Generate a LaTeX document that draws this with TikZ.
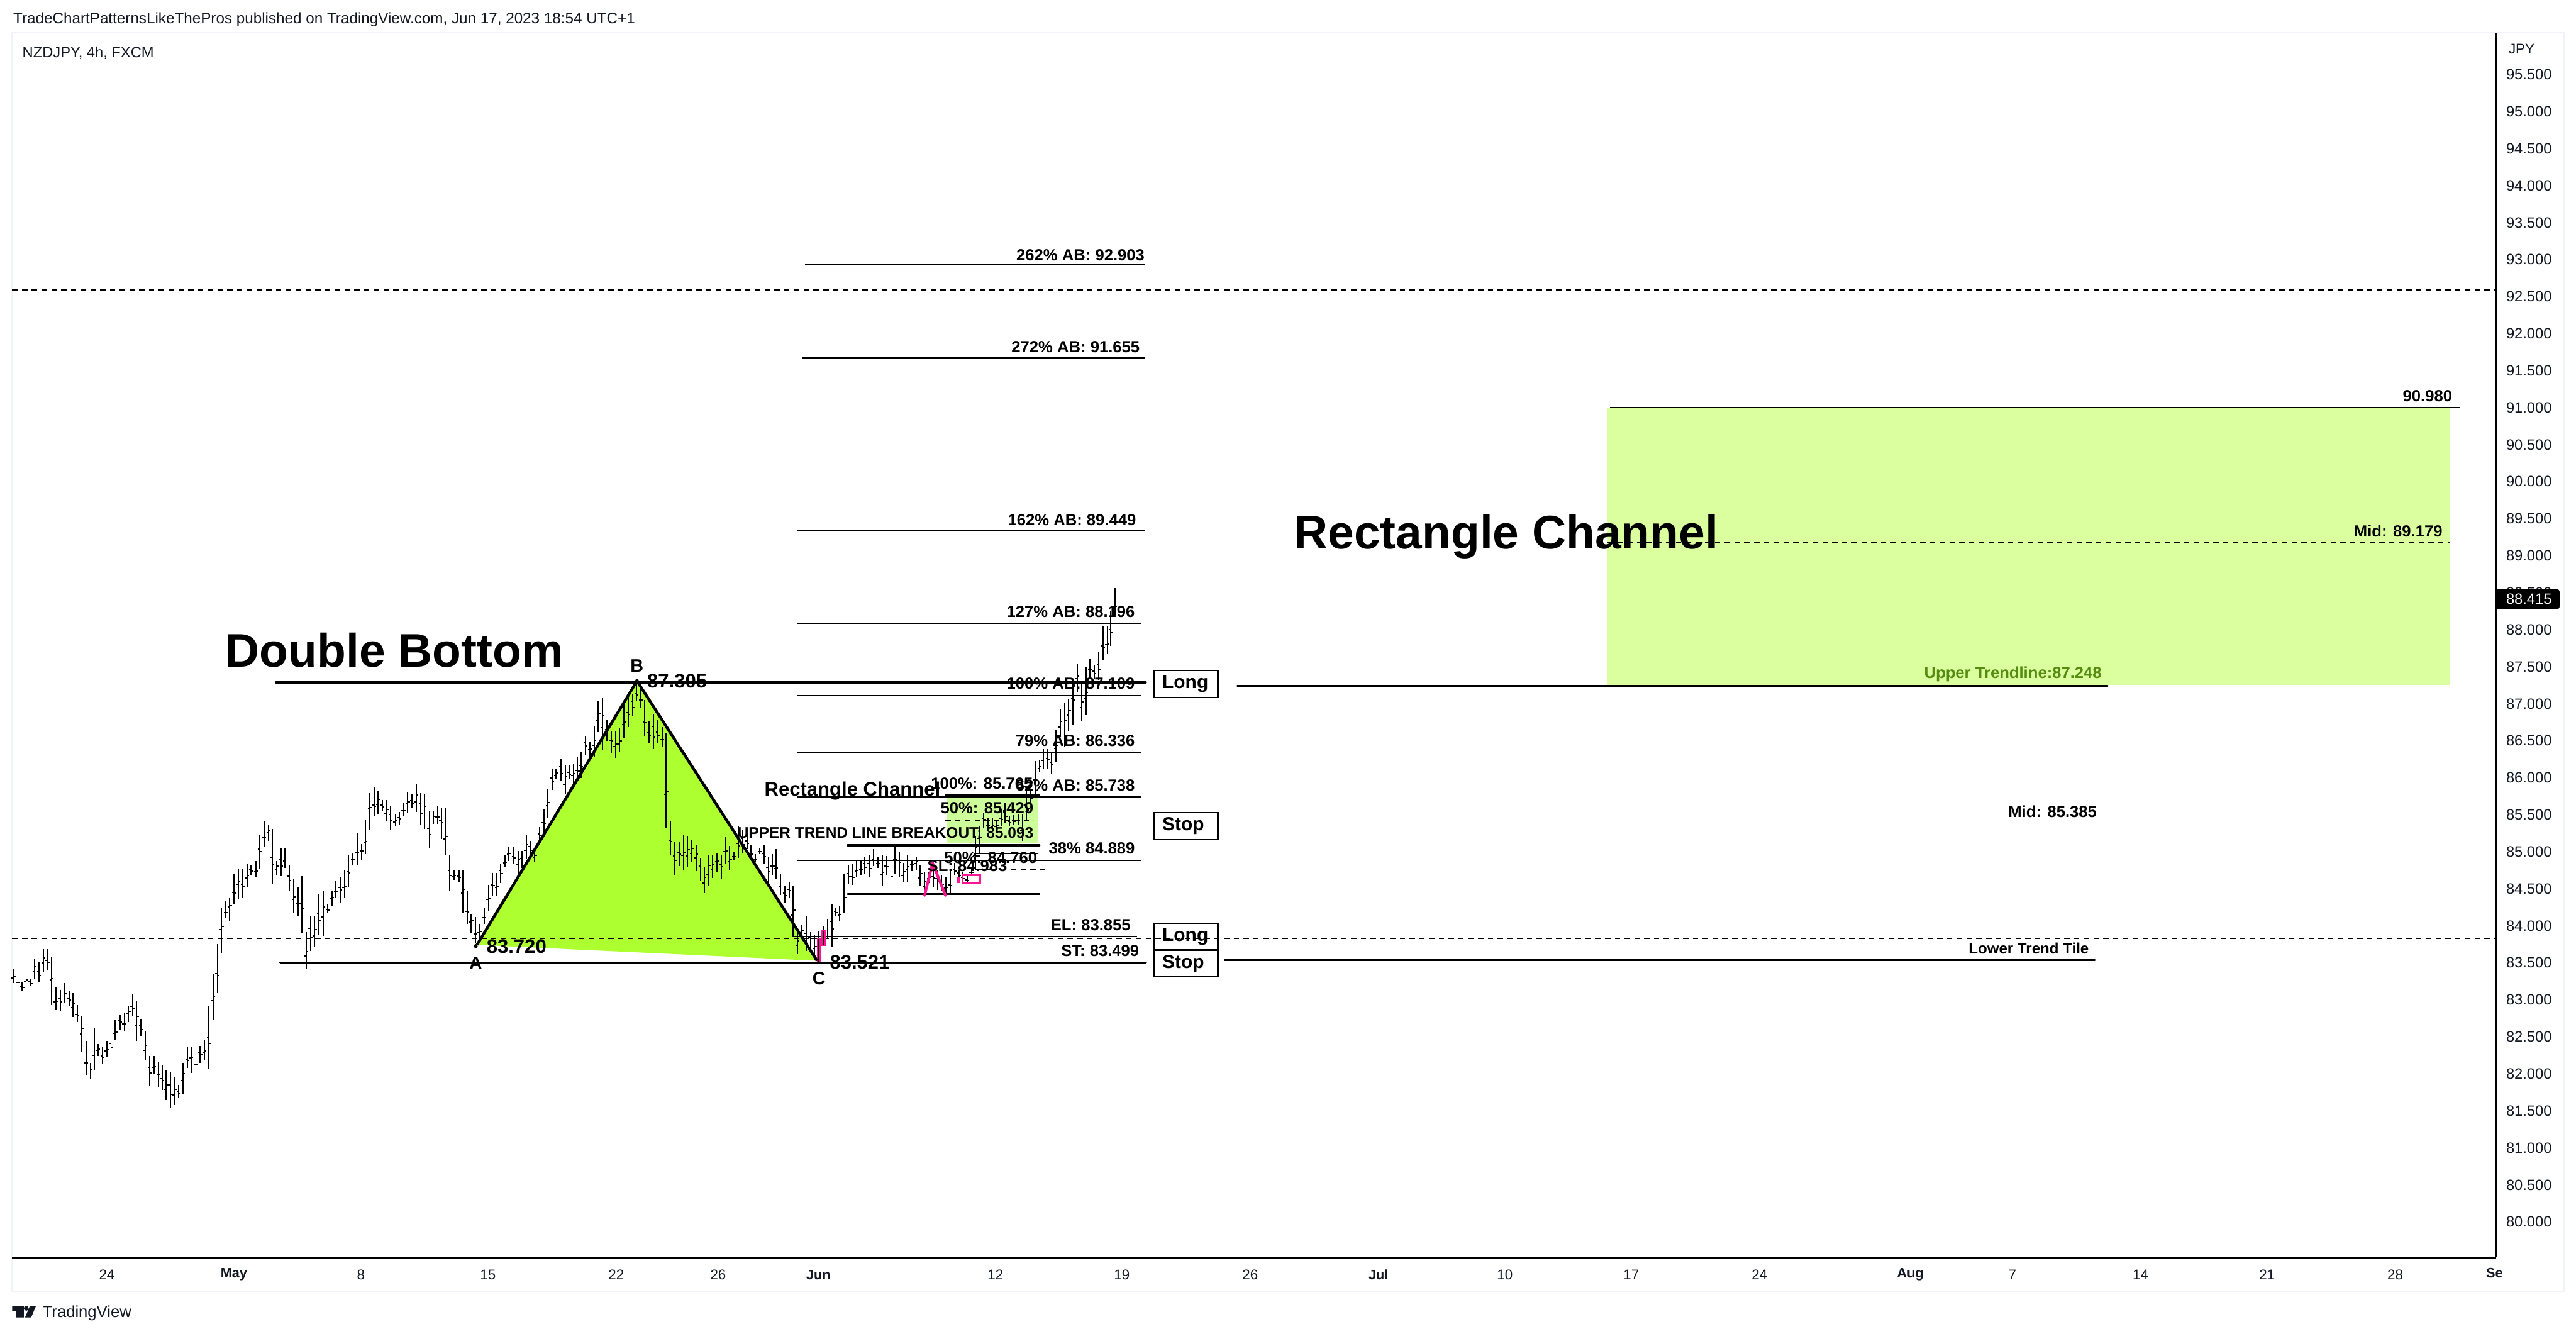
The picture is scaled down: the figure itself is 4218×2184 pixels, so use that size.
\documentclass[tikz,border=0pt]{standalone}
\usepackage{fontspec}
\setmainfont{Liberation Sans}
\definecolor{framecol}{HTML}{F0F3FA}
\definecolor{inkcol}{HTML}{131722}
\definecolor{limecol}{HTML}{ADFF2F}
\definecolor{paleA}{HTML}{DBFF9F}
\definecolor{paleB}{HTML}{CCFF99}
\definecolor{pinkcol}{HTML}{FF1493}
\definecolor{trendcol}{HTML}{558B10}
\tikzset{
  ohlcbar/.style={line width=0.5pt,black},
  thinline/.style={line width=0.5pt,black},
  thickline/.style={line width=0.95pt,black,line cap=round},
  dashline/.style={line width=0.42pt,black,dash pattern=on 2.2pt off 1.8pt},
  priceaxis/.style={inner sep=0pt,text=inkcol,font=\fontsize{6.1}{7}\selectfont},
  dateaxis/.style={inner sep=0pt,text=inkcol,font=\fontsize{5.75}{7}\selectfont},
  datebold/.style={inner sep=0pt,text=inkcol,font=\bfseries\fontsize{5.6}{7}\selectfont},
  fiblab/.style={inner sep=0pt,anchor=east,font=\bfseries\fontsize{6.6}{8}\selectfont},
  ptlab/.style={inner sep=0pt,font=\bfseries\fontsize{7.4}{9}\selectfont},
  ptval/.style={inner sep=0pt,anchor=west,font=\bfseries\fontsize{8}{9}\selectfont},
  hugelab/.style={inner sep=0pt,font=\bfseries\fontsize{19.3}{22}\selectfont},
  tradebox/.style={draw=black,line width=0.6pt,anchor=west,inner xsep=3.25pt,inner ysep=0pt,
    text width=19.5pt,align=left,minimum height=11pt,font=\bfseries\fontsize{7.7}{9}\selectfont},
  pinkline/.style={line width=1.1pt,pinkcol,line cap=round,line join=round}
}
\newcommand{\ohlc}[5]{%
  \foreach \X/\T/\B in {#5}{%
    \pgfmathsetmacro\xx{#1+\X/#3}%
    \pgfmathsetmacro\yt{#2+\T/#4}%
    \pgfmathsetmacro\yb{#2+\B/#4}%
    \pgfmathsetmacro\yo{\yt+(\yb-\yt)*(0.35+0.3*abs(sin(\X*7)))}%
    \pgfmathsetmacro\yc{\yt+(\yb-\yt)*(0.35+0.3*abs(cos(\X*9)))}%
    \draw[ohlcbar] (\xx,\yt)--(\xx,\yb) (\xx-3.3,\yo)--(\xx,\yo) (\xx,\yc)--(\xx+3.3,\yc);
  }}
\begin{document}
\begin{tikzpicture}[x=0.25pt,y=-0.25pt]
\useasboundingbox (0,0) rectangle (4218,2184);
\fill[white] (0,0) rectangle (4218,2184);
% frame
\draw[framecol,line width=0.5pt] (20,54) rectangle (4198,2114);
% green fills
\fill[paleA] (2632,667) rectangle (4011,1121);
\fill[paleB] (1551,1304) rectangle (1700,1381);
\fill[limecol] (781,1547) -- (1043,1115) -- (1338,1573) -- cycle;
% levels
\draw[dashline] (20,475) -- (4087,475);
\draw[dashline] (20,1536.5) -- (4087,1536.5);
\draw[thinline] (1318,433) -- (1875,433);
\draw[thinline] (1313,586) -- (1875,586);
\draw[thinline] (1305,869) -- (1875,869);
\draw[thinline] (1305,1021) -- (1869,1021);
\draw[thinline] (1305,1138.7) -- (1869,1138.7);
\draw[thinline] (1305,1233) -- (1869,1233);
\draw[thinline] (1305,1305) -- (1869,1305);
\draw[thinline] (1305,1409) -- (1869,1409);
\draw[thinline] (1298,1533) -- (1862,1533);
\draw[thickline] (452,1117) -- (1876,1117);
\draw[thickline] (459,1576) -- (1876,1576);
\draw[thickline] (2026,1123) -- (3451,1123);
\draw[thickline] (2005,1572) -- (3430,1572);
\draw[dashline] (2020,1347.5) -- (3439,1347.5);
\draw[thinline] (2636,667) -- (4027,667);
\draw[dashline] (2632,888) -- (4011,888);
% mini channel
\draw[thinline] (1548,1302) -- (1702,1302);
\draw[thickline,line width=0.8pt] (1388,1384) -- (1702,1384);
\draw[thickline,line width=0.8pt] (1388,1464) -- (1702,1464);
\draw[dashline] (1548,1343) -- (1692,1343);
\draw[dashline] (1655,1423) -- (1712,1423);
\draw[thinline] (1597,1397) -- (1700,1397);
\draw[thinline] (1597,1424) -- (1630,1424);
% bars
\ohlc{0}{1200}{1.568}{2.24}{35/866/918,46/875/952,57/912/948,67/880/933,78/903/930,89/828/902,100/842/915,111/792/878,122/792/868,132/823/998,143/933/1016,155/942/1022,166/918/990,177/948/1000,188/955/1043,199/997/1060,210/1037/1170,221/1130/1255,232/1210/1270,242/1083/1238,252/1140/1185,263/1150/1213,274/1130/1190,285/1100/1193,296/1052/1128,308/1035/1090,319/1025/1092,330/1002/1060,340/960/1040,351/982/1130,362/1048/1110,373/1095/1200,385/1185/1296,396/1185/1252,407/1205/1300,417/1217/1310,427/1238/1347,437/1245/1377,448/1260/1365,459/1290/1340,470/1210/1323,481/1150/1228,491/1150/1248,503/1175/1240,514/1148/1210,525/1125/1200,536/1002/1233,547/885/1052,558/775/955,569/642/810,580/618/680,590/605/688,601/518/627,612/497/608,623/497/605,634/478/565,645/485/522,657/470/530,667/375/500,678/325/420,689/335/395,699/352/556,710/470/522,721/423/525,732/423/495,743/484/578,754/535/660,765/567/672,775/525/735,786/730/866,797/672/800,808/672/785,819/592/740,830/580/745,841/627/662,852/580/635,862/543/605,873/530/625,884/505/605,895/448/565,906/440/485,917/368/485,928/408/465,938/317/445,949/220/355,960/200/305,970/212/300,981/245/285,992/247/325,1003/270/355,1015/300/340,1025/290/335,1036/255/305,1047/215/293,1058/225/275,1069/188/290,1080/220/337,1090/224/352,1102/285/422,1112/285/333,1123/268/333,1133/275/388,1144/277/450,1155/450/578,1166/505/540,1178/505/545,1188/505/660,1199/580/700,1210/665/735,1221/675/770,1231/700/770,1243/640/700,1254/558/655,1265/513/598,1276/513/600,1286/478/550,1297/450/490,1307/418/470,1319/418/480,1330/433/520,1340/433/495,1351/375/460,1362/395/450,1373/425/475,1385/345/400,1396/280/365,1407/205/310,1417/130/210,1428/130/170,1440/95/178,1451/120/225,1461/120/170,1472/115/190,1483/90/170}
\ohlc{950}{1090}{3}{3}{5/425/550,26/343/440,47/373/450,68/298/450,89/172/325,110/155/415,131/268/370,152/320/428,173/322/452,194/307/425,215/175/358,236/155/300,257/138/245,277/90/175,298/100/208,318/168/343,339/270/382,360/240/410,381/268/380,402/302/400,423/332/795,444/763/930,465/865/1030,486/862/985,507/832/1003,528/835/987,549/855/965,570/880/1010,591/943/1058,609/990/1118,630/930/1080,651/930/1043,672/918/1012,693/928/1048,714/838/975,735/885/1005,756/915/952,777/790/945,798/805/920,819/822/900,840/880/950,861/925/965,882/893/925,903/880/975,924/940/1060,945/925/1030,963/900/1050,985/1025/1125,1005/1080/1165,1026/1065/1140,1047/1080/1330,1068/1300/1415,1089/1270/1340,1110/1228/1400,1131/1308/1385,1152/1325/1445,1173/1305/1455,1194/1280/1375,1215/1243/1340,1236/1170/1378,1257/1188/1230,1275/1180/1252}
\ohlc{1330}{1350}{3}{3}{157/240/432,177/200/290,198/195/298,218/178/255,239/172/250,259/157/240,281/148/255,302/122/205,323/158/212,345/150/300,365/155/250,386/213/295,407/105/240,428/133/255,448/190/285,468/148/282,489/175/230,510/160/225,531/200/300,552/232/340,573/232/288,594/215/308,615/225/320,636/250/325,657/255/345,678/228/340,699/188/250,720/225/262,741/232/285,762/245/290,782/215/245,803/55/218}
\ohlc{1560}{950}{3}{3}{110/1255/1420,132/1205/1340,153/1140/1215,174/1170/1235,195/1170/1235,215/1180/1228,237/1125/1205,258/1095/1195,279/1160/1208,300/1155/1200,321/1150/1200,342/1150/1280,363/1035/1185,384/1030/1100,405/888/1055,426/885/945,445/830/925,466/830/928,486/850/950,507/733/893,528/635/770,549/603/817,570/585/743,591/510/710,612/410/548,633/510/692,654/428/662,675/385/480,696/418/485,717/350/490,738/225/392,759/228/362,777/150/323,798/40/178}
% pink marks
\draw[pinkcol,line width=0.45pt] (1339,1537) rectangle (1343,1575);
\draw[pinkcol,line width=0.45pt] (1346,1523) rectangle (1351,1548);
\draw[pinkline] (1514,1466) -- (1527,1413) -- (1548,1466);
\draw[pinkcol,line width=0.75pt] (1576,1433) rectangle (1605,1446);
\fill[pinkcol] (1567,1437) rectangle (1572,1446);
% pattern edges
\draw[black,line width=1.15pt,line join=round] (781,1547) -- (1043,1115) -- (1338,1573);
\fill[black] (779,1549) circle[radius=3.2];
\fill[black] (1043,1115) circle[radius=3.2];
% axes
\draw[black,line width=0.55pt] (4087,54) -- (4087,2059);
\draw[black,line width=0.55pt] (20,2059) -- (4087,2059);
% header
\node[inner sep=0pt,anchor=west,text=inkcol,font=\fontsize{6.24}{7}\selectfont] (hdr) at (21,32) {TradeChartPatternsLikeThePros published on TradingView.com, Jun 17, 2023 18:54 UTC+1};
\node[inner sep=0pt,anchor=west,text=inkcol,font=\fontsize{6.1}{7}\selectfont] (sym) at (36,87) {NZDJPY, 4h, FXCM};
\node[inner sep=0pt,anchor=west,text=inkcol,font=\fontsize{5.75}{7}\selectfont] (jpy) at (4107,80) {JPY};
% price axis
\foreach \i in {0,...,31}{
  \pgfmathsetmacro\pv{95.5-0.5*\i}
  \pgfmathsetmacro\py{122+60.6*\i}
  \node[priceaxis] (price\i) at (4141,\py) {\pgfmathprintnumber[fixed,fixed zerofill,precision=3,assume math mode=true]{\pv}};
}
\draw[fill=black,draw=black,line width=0.1pt] (4088,965) -- (4187,965) to[out=0,in=90] (4191,969) -- (4191,993) to[out=-90,in=0] (4187,997) -- (4088,997) -- cycle;
\node[priceaxis,text=white] (lastprice) at (4141,981) {88.415};
% date axis
\foreach \dx/\dlab/\dn in {175/24/a,591/8/c,799/15/d,1009/22/e,1176/26/f,1630/12/h,1837/19/i,2047/26/j,2464/10/l,2671/17/m,2881/24/n,3295/7/p,3505/14/q,3712/21/r,3922/28/s}{
  \node[dateaxis] (date\dn) at (\dx,2087) {\dlab};
}
\foreach \dx/\dlab/\dn in {383/May/b,1340/Jun/g,2257/Jul/k,3128/Aug/o}{
  \node[datebold] (date\dn) at (\dx,2087) {\dlab};
}
\begin{scope}
\clip (4050,2065) rectangle (4096,2110);
\node[datebold,anchor=west] (datet) at (4070,2087) {Sep};
\end{scope}
% footer logo
\fill[inkcol] (20,2138) -- (39,2138) -- (39,2157) -- (27,2157) -- (27,2146) -- (20,2146) -- cycle;
\fill[inkcol] (43,2142) circle[radius=4];
\fill[inkcol] (49,2138) -- (59,2138) -- (51,2157) -- (41,2157) -- cycle;
\node[inner sep=0pt,anchor=west,text=inkcol,font=\fontsize{6.6}{8}\selectfont] (tv) at (69,2150) {TradingView};
% big labels
\node[hugelab,anchor=center] (dbl) at (646,1064) {Double Bottom};
\node[hugelab,anchor=center] (rcbig) at (2466,879) {Rectangle Channel};
\node[inner sep=0pt,anchor=west,font=\bfseries\fontsize{8}{9}\selectfont] (rcsmall) at (1251,1295) {Rectangle Channel};
% fib labels
\node[fiblab] (f262) at (1875,418) {262\% AB: 92.903};
\node[fiblab] (f272) at (1867,568) {272\% AB: 91.655};
\node[fiblab] (f162) at (1861,851) {162\% AB: 89.449};
\node[fiblab] (f127) at (1859,1002) {127\% AB: 88.196};
\node[fiblab] (f100) at (1859,1119) {100\% AB: 87.109};
\node[fiblab] (f79) at (1859,1213) {79\% AB: 86.336};
\node[fiblab] (f62) at (1859,1286) {62\% AB: 85.738};
\node[fiblab] (f38) at (1859,1389) {38\% 84.889};
\node[fiblab] (fel) at (1852,1514) {EL: 83.855};
\node[fiblab] (fst) at (1866,1557) {ST: 83.499};
\node[fiblab] (m100) at (1692,1283) {100\%: 85.765};
\node[fiblab] (m50a) at (1693,1323) {50\%: 85.429};
\node[fiblab,font=\bfseries\fontsize{6.3}{8}\selectfont] (mbrk) at (1693,1364) {UPPER TREND LINE BREAKOUT: 85.093};
\node[fiblab] (m50b) at (1699,1404) {50\%: 84.760};
\node[fiblab] (msl) at (1650,1418) {SL: 84.983};
\node[fiblab] (r90) at (4016,648) {90.980};
\node[fiblab] (rmid) at (4000,869) {Mid: 89.179};
\node[fiblab,text=trendcol] (rup) at (3442,1104) {Upper Trendline:87.248};
\node[fiblab] (rmid2) at (3434,1329) {Mid: 85.385};
\node[fiblab,font=\bfseries\fontsize{6.2}{8}\selectfont] (rlow) at (3421,1553) {Lower Trend Tile};
% point labels
\node[ptval] (va) at (796,1550) {83.720};
\node[ptval] (vb) at (1059,1115) {87.305};
\node[ptval] (vc) at (1358,1575) {83.521};
\node[ptlab] (la) at (779,1577) {A};
\node[ptlab] (lb) at (1043,1090) {B};
\node[ptlab] (lc) at (1341,1602) {C};
% trade boxes
\node[tradebox] (long1) at (1889,1120) {Long};
\node[tradebox] (stop1) at (1889,1352.5) {Stop};
\node[tradebox] (long2) at (1889,1534) {Long};
\node[tradebox] (stop2) at (1889,1577.5) {Stop};
\end{tikzpicture}
\end{document}
